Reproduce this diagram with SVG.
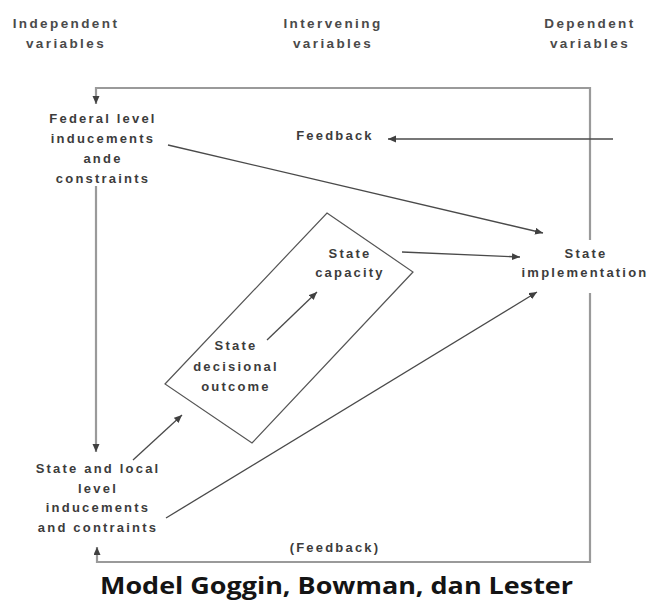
<svg xmlns="http://www.w3.org/2000/svg" width="651" height="602" viewBox="0 0 651 602">
  <style>
    .hdr { font-family: "Liberation Sans", Arial, sans-serif; font-size: 13.5px; font-weight: bold; fill: #4a4a4a; letter-spacing: 2.4px; text-anchor: middle; }
    .lbl { font-family: "Liberation Sans", Arial, sans-serif; font-size: 13px; font-weight: bold; fill: #3c3c3c; letter-spacing: 2.2px; text-anchor: middle; }
    .title { font-family: "Open Sans", "Liberation Sans", sans-serif; font-size: 23px; font-weight: bold; fill: #141414; }
    .arrow { fill: none; stroke: #4a4a4a; stroke-width: 1.3; marker-end: url(#head); }
    .loop { fill: none; stroke: #9a9a9a; stroke-width: 2.2; }
    .loopArrow { fill: none; stroke: #9a9a9a; stroke-width: 2.2; marker-end: url(#head); }
    .frame { fill: none; stroke: #555; stroke-width: 1.2; }
  </style>
  <defs>
    <marker id="head" markerUnits="userSpaceOnUse" markerWidth="9" markerHeight="8" refX="8" refY="3.5" orient="auto">
      <path d="M0,0 L8,3.5 L0,7 Z" fill="#404040"/>
    </marker>
  </defs>
  <rect width="651" height="602" fill="#ffffff"/>

  <!-- column headings -->
  <g id="headings">
    <text class="hdr" x="66" y="28">Independent</text>
    <text class="hdr" x="66" y="48">variables</text>
    <text class="hdr" x="333" y="28">Intervening</text>
    <text class="hdr" x="333" y="48">variables</text>
    <text class="hdr" x="590" y="28">Dependent</text>
    <text class="hdr" x="590" y="48">variables</text>
  </g>

  <!-- connectors -->
  <g id="connectors">
    <!-- outer feedback loop -->
    <polyline class="loopArrow" points="590,240 590,88 96,88 96,104"/>
    <polyline class="loopArrow" points="590,293 590,562 97,562 97,547"/>
    <!-- federal to state/local -->
    <line class="loopArrow" x1="96" y1="186" x2="96" y2="452"/>
    <!-- causal arrows -->
    <line class="arrow" x1="168" y1="145" x2="543" y2="233"/>
    <line class="arrow" x1="402" y1="252" x2="520" y2="257"/>
    <line class="arrow" x1="166" y1="518" x2="537" y2="292"/>
    <line class="arrow" x1="133" y1="460" x2="182" y2="415"/>
    <line class="arrow" x1="267" y1="340" x2="317" y2="292"/>
    <line class="arrow" x1="613" y1="139" x2="388" y2="139"/>
  </g>

  <!-- tilted frame around the intervening variables -->
  <g id="intervening-box">
    <polygon class="frame" points="327,213 413,272 252,443 165,384"/>
  </g>

  <g id="federal">
    <text class="lbl" x="103" y="123">Federal level</text>
    <text class="lbl" x="103" y="143">inducements</text>
    <text class="lbl" x="103" y="163">ande</text>
    <text class="lbl" x="103" y="183">constraints</text>
  </g>

  <g id="feedback">
    <text class="lbl" x="335" y="140">Feedback</text>
  </g>

  <g id="state-capacity">
    <text class="lbl" x="350" y="258">State</text>
    <text class="lbl" x="350" y="277">capacity</text>
  </g>

  <g id="state-decisional">
    <text class="lbl" x="236" y="350">State</text>
    <text class="lbl" x="236" y="371">decisional</text>
    <text class="lbl" x="236" y="391">outcome</text>
  </g>

  <g id="state-implementation">
    <text class="lbl" x="586" y="258">State</text>
    <text class="lbl" x="585" y="277">implementation</text>
  </g>

  <g id="state-local">
    <text class="lbl" x="98" y="473">State and local</text>
    <text class="lbl" x="98" y="493">level</text>
    <text class="lbl" x="98" y="512">inducements</text>
    <text class="lbl" x="98" y="532">and contraints</text>
  </g>

  <g id="feedback-bottom">
    <text class="lbl" x="335" y="552">(Feedback)</text>
  </g>

  <text class="title" x="100" y="594" textLength="473" lengthAdjust="spacingAndGlyphs">Model Goggin, Bowman, dan Lester</text>
</svg>
